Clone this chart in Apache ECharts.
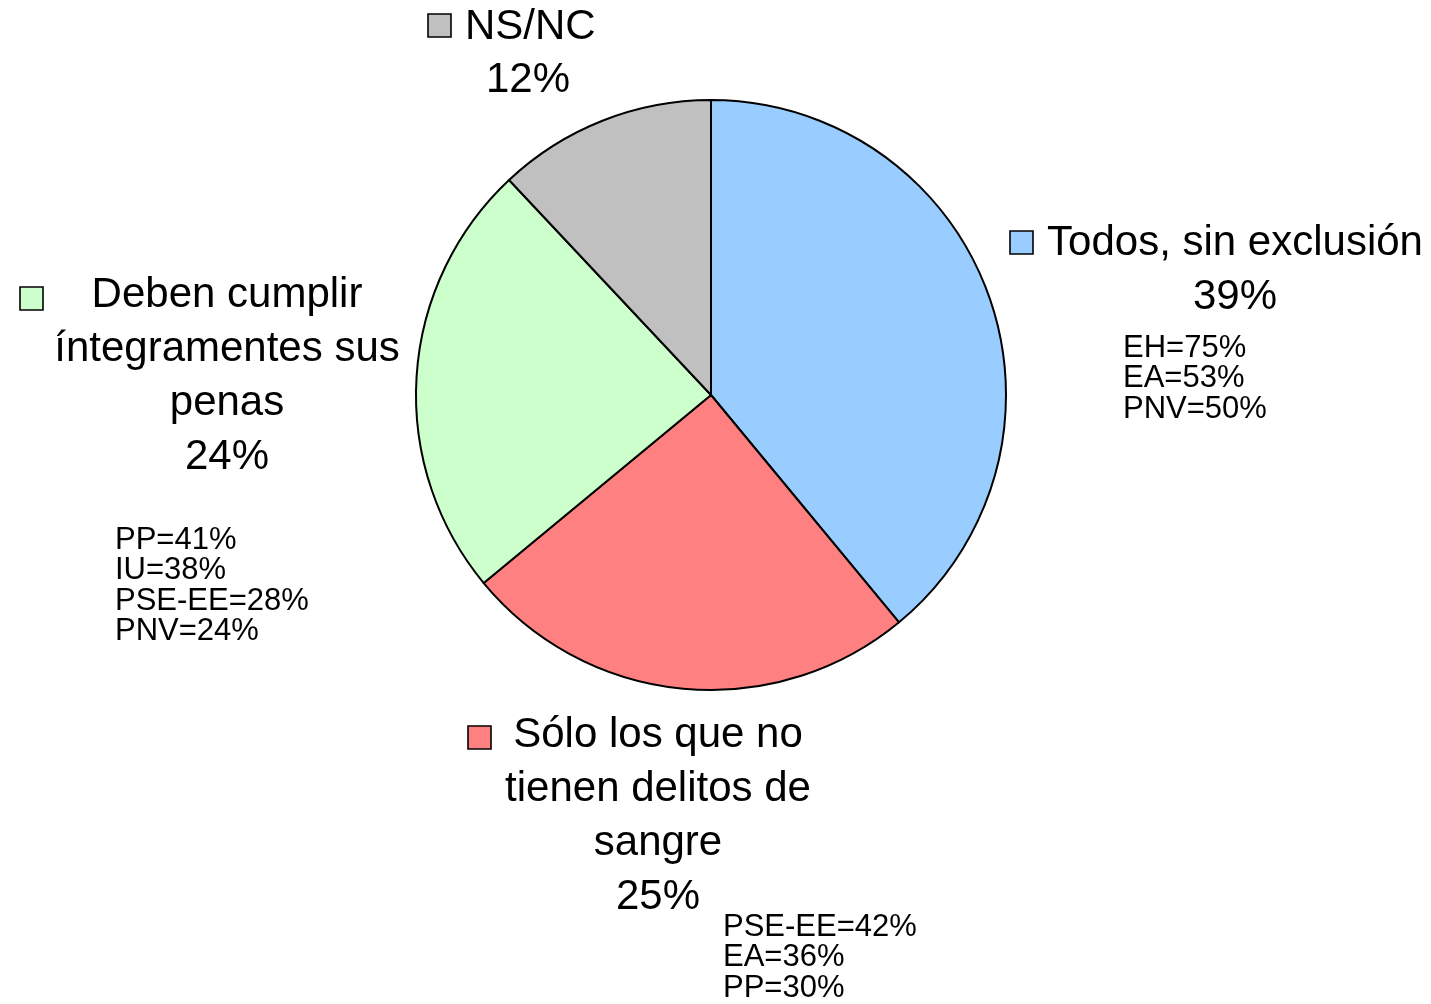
<!DOCTYPE html>
<html>
<head>
<meta charset="utf-8">
<script src="https://cdn.jsdelivr.net/npm/echarts@6/dist/echarts.min.js"></script>
<style>
  html, body { margin: 0; padding: 0; background: #fff; }
  #chart { width: 1431px; height: 1004px; }
</style>
</head>
<body>
<div id="chart"></div>
<script>
// Answer categories (line breaks as shown in the labels)
var categories = [
  'Todos, sin exclusión',
  'Sólo los que no\ntienen delitos de\nsangre',
  'Deben cumplir\níntegramentes sus\npenas',
  'NS/NC'
];
// Share of answers, in percent
var values = [39, 25, 24, 12];
// Party breakdown shown beside each answer
var breakdowns = [
  ['EH=75%', 'EA=53%', 'PNV=50%'],
  ['PSE-EE=42%', 'EA=36%', 'PP=30%'],
  ['PP=41%', 'IU=38%', 'PSE-EE=28%', 'PNV=24%'],
  []
];
var colors = ['#99CCFF', '#FF8080', '#CCFFCC', '#C0C0C0'];

// Where each label block goes: key square, centre of the centred lines,
// y of first line, and the top-left of the breakdown list.
var layout = [
  { key: [1010, 231], cx: 1235, y0: 243, sub: [1123, 348] },
  { key: [468, 726],  cx: 658,  y0: 735, sub: [723, 927] },
  { key: [20, 287],   cx: 227,  y0: 295, sub: [115, 540] },
  { key: [428, 14],   cx: 528,  y0: 27,  sub: null }
];

var FONT = '"Liberation Sans", Arial, sans-serif';
var MAIN_SIZE = 42, MAIN_LH = 54;
var SUB_SIZE = 31, SUB_LH = 30.6;

var graphics = [];
categories.forEach(function (cat, i) {
  var L = layout[i];
  graphics.push({
    type: 'rect',
    shape: { x: L.key[0], y: L.key[1], width: 23, height: 23 },
    style: { fill: colors[i], stroke: '#000', lineWidth: 1.6 }
  });
  var lines = cat.split('\n').concat([values[i] + '%']);
  // the NS/NC name sits just right of its key, the rest are centred
  lines.forEach(function (t, j) {
    graphics.push({
      type: 'text',
      x: (i === 3 && j === 0) ? 465 : L.cx,
      y: L.y0 + j * (i === 3 ? 53 : MAIN_LH),
      style: {
        text: t,
        font: MAIN_SIZE + 'px ' + FONT,
        fill: '#000',
        textAlign: (i === 3 && j === 0) ? 'left' : 'center',
        textVerticalAlign: 'middle'
      }
    });
  });
  if (L.sub) {
    breakdowns[i].forEach(function (t, j) {
      graphics.push({
        type: 'text',
        x: L.sub[0],
        y: L.sub[1] + j * SUB_LH,
        style: {
          text: t,
          font: SUB_SIZE + 'px ' + FONT,
          fill: '#000',
          textAlign: 'left',
          textVerticalAlign: 'middle'
        }
      });
    });
  }
});

var chart = echarts.init(document.getElementById('chart'), null, { renderer: 'canvas' });
chart.setOption({
  backgroundColor: '#ffffff',
  animation: false,
  series: [{
    type: 'pie',
    center: [711, 395],
    radius: 295,
    startAngle: 90,
    clockwise: true,
    avoidLabelOverlap: false,
    label: { show: false },
    labelLine: { show: false },
    emphasis: { disabled: true },
    itemStyle: { borderColor: '#000', borderWidth: 2 },
    data: categories.map(function (c, i) {
      return { name: c, value: values[i], itemStyle: { color: colors[i] } };
    })
  }],
  graphic: graphics
});
</script>
</body>
</html>
